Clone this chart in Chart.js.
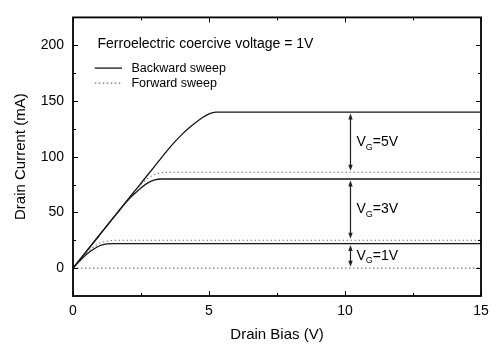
<!DOCTYPE html>
<html>
<head>
<meta charset="utf-8">
<script src="https://cdn.jsdelivr.net/npm/chart.js@4.4.1/dist/chart.umd.min.js"></script>
<style>
  html, body { margin: 0; padding: 0; background: #fff; }
  #wrap { width: 497px; height: 349px; }
</style>
</head>
<body>
<div id="wrap"><canvas id="ivChart" width="497" height="349"></canvas></div>
<script>
// drain bias (V), shared by every curve
const drainBias = [0, 0.25, 0.5, 0.75, 1, 1.25, 1.5, 1.75, 2, 2.25, 2.5, 2.75, 3, 3.25, 3.5, 3.75, 4, 4.25, 4.5, 4.75, 5, 5.25, 5.5,
                   6, 7, 8, 9, 10, 11, 12, 13, 14, 15];

// drain current (mA)
const backward5V = [0, 7.6, 15.2, 22.9, 30.5, 38.1, 45.7, 53.3, 61, 68.6, 76.2, 83.8, 91.4, 99, 106.5, 113.5, 119.8, 125.5, 130.5, 135, 138.5, 140, 140,
                    140, 140, 140, 140, 140, 140, 140, 140, 140, 140];
const forward5V  = [0, 7.6, 15.2, 22.9, 30.5, 38.1, 45.7, 53.3, 61, 68.3, 75, 80.5, 84, 85.6, 86, 86, 86, 86, 86, 86, 86, 86, 86,
                    86, 86, 86, 86, 86, 86, 86, 86, 86, 86];
const backward3V = [0, 7.6, 15.2, 22.9, 30.5, 38.1, 45.7, 53.3, 60.5, 66.5, 72, 76.5, 79.2, 80, 80, 80, 80, 80, 80, 80, 80, 80, 80,
                    80, 80, 80, 80, 80, 80, 80, 80, 80, 80];
const forward3V  = [0, 7, 13.5, 19, 22.5, 24.2, 25, 25, 25, 25, 25, 25, 25, 25, 25, 25, 25, 25, 25, 25, 25, 25, 25,
                    25, 25, 25, 25, 25, 25, 25, 25, 25, 25];
const backward1V = [0, 6.5, 12.5, 17, 20.3, 21.7, 22, 22, 22, 22, 22, 22, 22, 22, 22, 22, 22, 22, 22, 22, 22, 22, 22,
                    22, 22, 22, 22, 22, 22, 22, 22, 22, 22];
const forward1V  = [0, 0, 0, 0, 0, 0, 0, 0, 0, 0, 0, 0, 0, 0, 0, 0, 0, 0, 0, 0, 0, 0, 0,
                    0, 0, 0, 0, 0, 0, 0, 0, 0, 0];

const xTicks = [0, 5, 10, 15];
const xMinorTicks = [2.5, 7.5, 12.5];
const yTicks = [0, 50, 100, 150, 200];
const yMinorTicks = [25, 75, 125, 175];

// gate voltage gaps: [label, top, bottom]
const gapNotes = [
  ['5V', 140, 86],
  ['3V', 80, 25],
  ['1V', 22, 0]
];

const FONT = '"Liberation Sans", Arial, Helvetica, sans-serif';
Chart.defaults.font.family = FONT;
Chart.defaults.color = '#000';

function toPoints(ys) {
  return drainBias.map((x, i) => ({ x: x, y: ys[i] }));
}

function solid(ys) {
  return { data: toPoints(ys), borderColor: '#151515', borderWidth: 1.3, pointRadius: 0, showLine: true,
           cubicInterpolationMode: 'monotone', fill: false };
}
function dotted(ys) {
  return { data: toPoints(ys), borderColor: '#777', borderWidth: 1.1, borderDash: [1.5, 2.5], pointRadius: 0, showLine: true,
           cubicInterpolationMode: 'monotone', fill: false };
}

// frame, inward ticks, legend text and the V_G arrows
const notesPlugin = {
  id: 'notes',
  afterDatasetsDraw(chart) {
    const { ctx, chartArea: a, scales: { x, y } } = chart;
    ctx.save();
    ctx.strokeStyle = '#000';
    ctx.lineWidth = 1.8;
    ctx.strokeRect(a.left, a.top, a.right - a.left, a.bottom - a.top);

    ctx.lineWidth = 1;
    const tick = (v, len, axis) => {
      ctx.beginPath();
      if (axis === 'x') {
        const px = Math.round(x.getPixelForValue(v)) + 0.5;
        ctx.moveTo(px, a.bottom); ctx.lineTo(px, a.bottom - len);
        ctx.moveTo(px, a.top); ctx.lineTo(px, a.top + len);
      } else {
        const py = Math.round(y.getPixelForValue(v)) + 0.5;
        ctx.moveTo(a.left, py); ctx.lineTo(a.left + len, py);
        ctx.moveTo(a.right, py); ctx.lineTo(a.right - len, py);
      }
      ctx.stroke();
    };
    xTicks.forEach(v => tick(v, 5, 'x'));
    xMinorTicks.forEach(v => tick(v, 3, 'x'));
    yTicks.forEach(v => tick(v, 5, 'y'));
    yMinorTicks.forEach(v => tick(v, 3, 'y'));

    // heading + legend
    ctx.fillStyle = '#000';
    ctx.textBaseline = 'middle';
    ctx.textAlign = 'left';
    ctx.font = '14px ' + FONT;
    ctx.fillText('Ferroelectric coercive voltage = 1V', x.getPixelForValue(0.9), y.getPixelForValue(201));

    const lx0 = x.getPixelForValue(0.8), lx1 = x.getPixelForValue(1.8), tx = x.getPixelForValue(2.15);
    const ly1 = y.getPixelForValue(179.5), ly2 = y.getPixelForValue(166);
    ctx.lineWidth = 1.3;
    ctx.strokeStyle = '#151515';
    ctx.beginPath(); ctx.moveTo(lx0, ly1); ctx.lineTo(lx1, ly1); ctx.stroke();
    ctx.strokeStyle = '#777';
    ctx.lineWidth = 1.1;
    ctx.setLineDash([1.5, 2.5]);
    ctx.beginPath(); ctx.moveTo(lx0, ly2); ctx.lineTo(lx1, ly2); ctx.stroke();
    ctx.setLineDash([]);
    ctx.font = '12.5px ' + FONT;
    ctx.fillText('Backward sweep', tx, ly1);
    ctx.fillText('Forward sweep', tx, ly2);

    // double arrows between backward and forward levels
    const ax = Math.round(x.getPixelForValue(10.2)) + 0.5;
    ctx.strokeStyle = '#222';
    ctx.fillStyle = '#222';
    ctx.lineWidth = 1.2;
    gapNotes.forEach(([label, top, bottom]) => {
      const y0 = y.getPixelForValue(top) + 1.5, y1 = y.getPixelForValue(bottom) - 1.5;
      ctx.beginPath(); ctx.moveTo(ax, y0 + 3); ctx.lineTo(ax, y1 - 3); ctx.stroke();
      ctx.beginPath(); ctx.moveTo(ax, y0); ctx.lineTo(ax - 2.2, y0 + 6); ctx.lineTo(ax + 2.2, y0 + 6); ctx.closePath(); ctx.fill();
      ctx.beginPath(); ctx.moveTo(ax, y1); ctx.lineTo(ax - 2.2, y1 - 6); ctx.lineTo(ax + 2.2, y1 - 6); ctx.closePath(); ctx.fill();

      const cy = (y0 + y1) / 2;
      let px = x.getPixelForValue(10.42);
      ctx.fillStyle = '#000';
      ctx.font = '14px ' + FONT;
      ctx.fillText('V', px, cy);
      px += ctx.measureText('V').width;
      ctx.font = '9px ' + FONT;
      ctx.fillText('G', px, cy + 5);
      px += ctx.measureText('G').width;
      ctx.font = '14px ' + FONT;
      ctx.fillText('=' + label, px, cy);
      ctx.fillStyle = '#222';
    });
    ctx.restore();
  }
};

new Chart(document.getElementById('ivChart'), {
  type: 'scatter',
  data: {
    datasets: [
      solid(backward5V), dotted(forward5V),
      solid(backward3V), dotted(forward3V),
      solid(backward1V), dotted(forward1V)
    ]
  },
  options: {
    responsive: false,
    animation: false,
    layout: { padding: { top: 6, right: 16, left: 0, bottom: 0 } },
    plugins: { legend: { display: false }, tooltip: { enabled: false } },
    scales: {
      x: {
        type: 'linear', min: 0, max: 15,
        afterBuildTicks: s => { s.ticks = xTicks.map(v => ({ value: v })); },
        afterFit: s => { s.height = 53; },
        grid: { display: false, drawTicks: false },
        border: { display: false },
        ticks: { font: { size: 14 }, padding: 7, maxRotation: 0 },
        title: { display: true, text: 'Drain Bias (V)', font: { size: 15 }, padding: { top: 0, bottom: 5 } }
      },
      y: {
        type: 'linear', min: -25, max: 225,
        afterBuildTicks: s => { s.ticks = yTicks.map(v => ({ value: v })); },
        afterFit: s => { s.width = 73; },
        grid: { display: false, drawTicks: false },
        border: { display: false },
        ticks: { font: { size: 14 }, padding: 9 },
        title: { display: true, text: 'Drain Current (mA)', font: { size: 15 }, padding: { top: 12, bottom: 0 } }
      }
    }
  },
  plugins: [notesPlugin]
});
</script>
</body>
</html>
